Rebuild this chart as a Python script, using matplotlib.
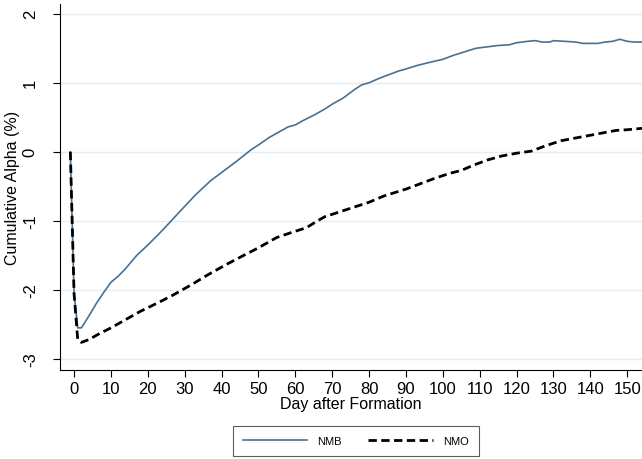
import matplotlib
matplotlib.use("Agg")
import matplotlib.pyplot as plt

plt.rcParams['font.family'] = ['Liberation Sans', 'DejaVu Sans']

# values
nmb_days = [-1, 0, 1, 2, 4, 6, 8, 10, 12, 14, 17, 20, 23, 26, 30, 33, 37, 40, 44, 48,
            50, 53, 56, 58, 60, 62, 65, 68, 70, 73, 76, 78, 80, 83, 86, 88, 90, 93, 96,
            100, 103, 106, 109, 112, 115, 118, 120, 123, 125, 127, 129, 130, 133, 136,
            138, 140, 142, 144, 146, 148, 150, 152, 154]
nmb_vals = [0, -2.05, -2.55, -2.55, -2.38, -2.2, -2.04, -1.89, -1.80, -1.69, -1.50, -1.35,
            -1.19, -1.02, -0.79, -0.62, -0.42, -0.30, -0.14, 0.03, 0.10, 0.21, 0.30, 0.36,
            0.39, 0.45, 0.53, 0.62, 0.69, 0.78, 0.90, 0.97, 1.00, 1.07, 1.13, 1.17, 1.20,
            1.25, 1.29, 1.34, 1.40, 1.45, 1.50, 1.52, 1.54, 1.55, 1.58, 1.60, 1.61, 1.59,
            1.59, 1.61, 1.60, 1.59, 1.57, 1.57, 1.57, 1.59, 1.60, 1.63, 1.60, 1.59, 1.59]

nmo_days = [-1, 0, 1, 2, 4, 7, 10, 14, 18, 23, 27, 32, 36, 41, 46, 50, 55, 60, 63, 66,
            68, 72, 76, 80, 84, 87, 90, 94, 98, 102, 105, 108, 112, 116, 120, 124, 128,
            132, 136, 140, 144, 147, 150, 154]
nmo_vals = [0, -2.05, -2.72, -2.76, -2.72, -2.63, -2.55, -2.43, -2.31, -2.18, -2.07, -1.92,
            -1.79, -1.64, -1.50, -1.39, -1.24, -1.15, -1.10, -1.00, -0.94, -0.87, -0.80,
            -0.73, -0.64, -0.59, -0.54, -0.46, -0.38, -0.31, -0.27, -0.20, -0.12, -0.06,
            -0.02, 0.01, 0.09, 0.16, 0.20, 0.24, 0.28, 0.31, 0.32, 0.34]

x_ticks = list(range(0, 151, 10))
y_ticks = [-3, -2, -1, 0, 1, 2]

fig = plt.figure(figsize=(6.42, 4.6), dpi=100)
ax = fig.add_axes([0.0935, 0.1935, 0.9065, 0.7955])

ax.plot(nmb_days, nmb_vals, color='#4a7090', lw=1.2, label='NMB')
ax.plot(nmo_days, nmo_vals, color='black', lw=2.0, ls=(0, (3, 1.6)), label='NMO')

ax.set_xlim(-3.8, 154)
ax.set_ylim(-3.16, 2.14)
ax.set_xticks(x_ticks)
ax.set_yticks(y_ticks)
ax.set_yticklabels([str(v) for v in y_ticks], rotation=90, va='center')
ax.tick_params(labelsize=12, length=5, width=0.8, colors='black')
ax.tick_params(axis='x', pad=3)
ax.tick_params(axis='y', pad=11)
ax.grid(axis='y', color='#e4eef0', lw=1.0)
ax.set_axisbelow(True)
for s in ['top', 'right']:
    ax.spines[s].set_visible(False)
ax.set_xlabel('Day after Formation', fontsize=11.5, labelpad=0)
ax.set_ylabel('Cumulative Alpha (%)', fontsize=11.5, labelpad=2)

leg = fig.legend(loc='center', bbox_to_anchor=(0.554, 0.040), ncol=2, fontsize=8,
                 fancybox=False, edgecolor='#333333', handlelength=5.8,
                 handletextpad=0.9, columnspacing=2.4, borderpad=0.9,
                 borderaxespad=0)
leg.get_frame().set_linewidth(0.8)

fig.savefig('out.png', dpi=100)
